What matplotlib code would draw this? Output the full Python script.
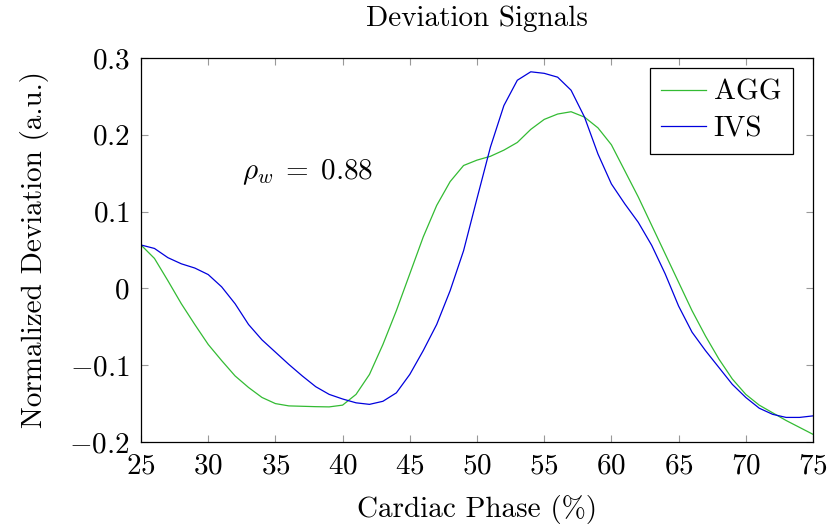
import matplotlib
matplotlib.use("Agg")
import matplotlib.pyplot as plt
from matplotlib.ticker import FuncFormatter

plt.rcParams['font.family'] = 'serif'
plt.rcParams['font.serif'] = ['cmr10']
plt.rcParams['mathtext.fontset'] = 'cm'
plt.rcParams['axes.unicode_minus'] = False

phase = list(range(25, 76))
agg = [0.0565, 0.039, 0.010, -0.020, -0.047, -0.073, -0.094, -0.114, -0.129, -0.142,
       -0.150, -0.153, -0.1535, -0.154, -0.1543, -0.152, -0.138, -0.112, -0.073, -0.029,
       0.019, 0.067, 0.108, 0.139, 0.160, 0.167, 0.172, 0.180, 0.190, 0.207,
       0.220, 0.227, 0.230, 0.223, 0.209, 0.187, 0.153, 0.119, 0.082, 0.045,
       0.008, -0.029, -0.062, -0.092, -0.118, -0.138, -0.152, -0.162, -0.172, -0.181,
       -0.190]
ivs = [0.0565, 0.052, 0.040, 0.032, 0.0265, 0.018, 0.002, -0.020, -0.047, -0.067,
       -0.083, -0.099, -0.114, -0.128, -0.138, -0.144, -0.149, -0.151, -0.147, -0.136,
       -0.112, -0.081, -0.047, -0.003, 0.049, 0.117, 0.184, 0.238, 0.271, 0.282,
       0.280, 0.275, 0.258, 0.223, 0.175, 0.136, 0.110, 0.086, 0.056, 0.019,
       -0.023, -0.057, -0.081, -0.103, -0.125, -0.142, -0.156, -0.164, -0.168, -0.168,
       -0.166]
xticks = [25, 30, 35, 40, 45, 50, 55, 60, 65, 70, 75]
yticks = [-0.2, -0.1, 0, 0.1, 0.2, 0.3]

FS = 21
fig = plt.figure(figsize=(8.3, 5.27), dpi=100)
ax = fig.add_axes([0.1699, 0.1613, 0.8096, 0.7287])
ax.plot(phase, agg, color='#33bb33', lw=0.9, label='AGG')
ax.plot(phase, ivs, color='#0000dd', lw=0.9, label='IVS')
ax.set_xlim(25, 75)
ax.set_ylim(-0.2, 0.3)
ax.set_xticks(xticks)
ax.set_yticks(yticks)

def fmt(v, pos):
    s = f'{v:g}'
    return f'${s}$'

ax.xaxis.set_major_formatter(FuncFormatter(lambda v, p: f'${int(round(v))}$'))
ax.yaxis.set_major_formatter(FuncFormatter(fmt))
ax.tick_params(direction='in', top=True, right=True, length=5, width=0.8,
               color='#999999', labelsize=FS, pad=8)
for s in ax.spines.values():
    s.set_linewidth(0.9)
ax.set_xlabel('Cardiac Phase (%)', fontsize=FS, labelpad=11)
ax.set_ylabel('Normalized Deviation (a.u.)', fontsize=FS, labelpad=15)
ax.set_title('Deviation Signals', fontsize=FS, pad=23)
ax.text(32.5, 0.152, r'$\rho_w\;=\;0.88$', fontsize=FS, va='center')
leg = ax.legend(loc='upper right', fontsize=FS, frameon=True, fancybox=False,
                edgecolor='black', framealpha=1, handlelength=1.55,
                borderpad=0.39, labelspacing=0.36, handletextpad=0.25,
                borderaxespad=0, bbox_to_anchor=(0.970, 0.974))
leg.get_frame().set_linewidth(0.9)
fig.savefig('out.png', dpi=100)
